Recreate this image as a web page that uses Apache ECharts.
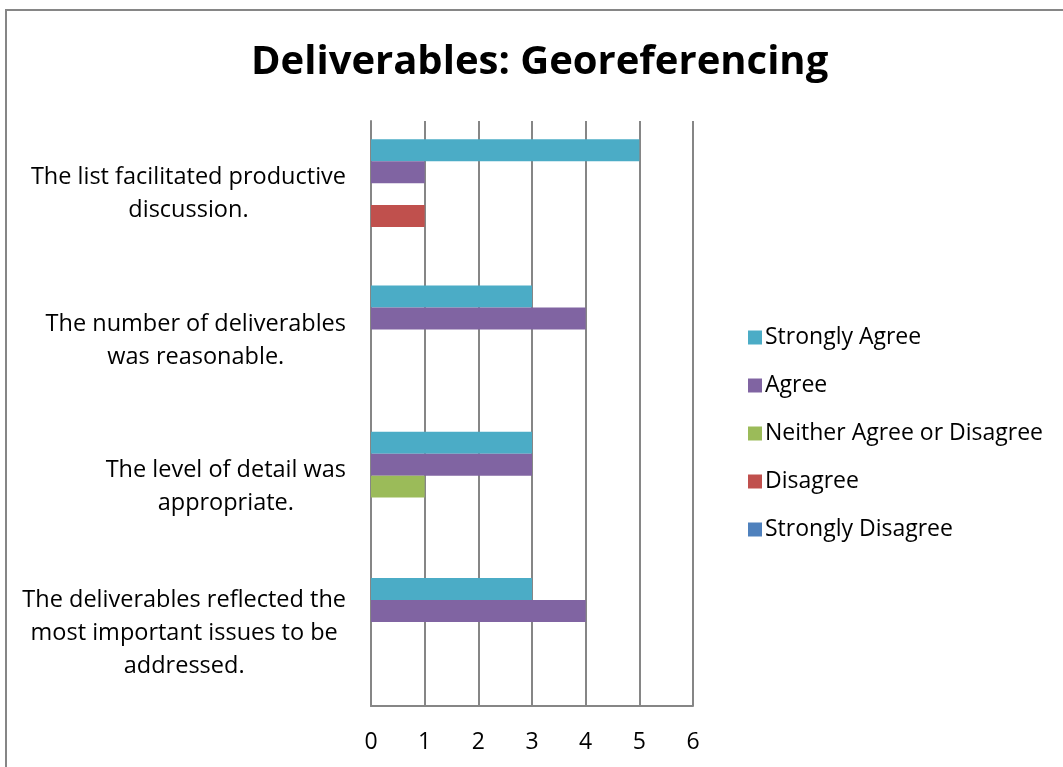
<!DOCTYPE html>
<html>
<head>
<meta charset="utf-8">
<script src="https://cdn.jsdelivr.net/npm/echarts@6/dist/echarts.min.js"></script>
<style>
  html, body { margin: 0; padding: 0; background: #fff; }
  #chart { width: 1063px; height: 767px; }
</style>
</head>
<body>
<div id="chart"></div>
<script>
const statements = [
  "The list facilitated productive\ndiscussion.",
  "The number of deliverables\nwas reasonable.",
  "The level of detail was\nappropriate.",
  "The deliverables reflected the\nmost important issues to be\naddressed."
];
const xTicks = [0, 1, 2, 3, 4, 5, 6];

const stronglyAgree = [5, 3, 3, 3];
const agree = [1, 4, 3, 4];
const neither = [0, 0, 1, 0];
const disagree = [1, 0, 0, 0];
const stronglyDisagree = [0, 0, 0, 0];

const seriesNames = ["Strongly Agree", "Agree", "Neither Agree or Disagree", "Disagree", "Strongly Disagree"];
const seriesColors = ["#4BACC6", "#8064A2", "#9BBB59", "#C0504D", "#4F81BD"];
const seriesData = [stronglyAgree, agree, neither, disagree, stronglyDisagree];

const font = "Open Sans";
const chart = echarts.init(document.getElementById("chart"));

chart.setOption({
  animation: false,
  textStyle: { fontFamily: font },
  title: {
    text: "Deliverables: Georeferencing",
    left: 246,
    top: 38,
    textStyle: { fontFamily: font, fontSize: 40, fontWeight: "bold", color: "#000" }
  },
  graphic: [{
    type: "rect",
    shape: { x: 6, y: 10, width: 1100, height: 800 },
    style: { fill: "none", stroke: "#868686", lineWidth: 2 },
    silent: true
  }],
  legend: {
    orient: "vertical",
    left: 743,
    top: 321,
    itemWidth: 14,
    itemHeight: 14,
    itemGap: 25,
    icon: "rect",
    textStyle: { fontFamily: font, fontSize: 23, color: "#000", padding: [0, 0, 0, -2] },
    data: seriesNames
  },
  grid: { left: 371, top: 121, width: 322, height: 585, containLabel: false },
  xAxis: {
    type: "value",
    min: xTicks[0],
    max: xTicks[xTicks.length - 1],
    interval: 1,
    axisLine: { show: true, lineStyle: { color: "#868686", width: 2 } },
    axisTick: { show: false },
    axisLabel: { fontFamily: font, fontSize: 23, color: "#000", margin: 25 },
    splitLine: { show: true, lineStyle: { color: "#868686", width: 2 } }
  },
  yAxis: {
    type: "category",
    inverse: true,
    data: statements,
    axisLine: { show: true, lineStyle: { color: "#868686", width: 2 } },
    axisTick: { show: false },
    axisLabel: {
      margin: 25,
      align: "right",
      formatter: (value) => value.split("\n").map((line) => "{c|" + line + "}").join("\n"),
      rich: {
        c: { fontFamily: font, fontSize: 23.5, color: "#000", lineHeight: 33, align: "center" }
      }
    }
  },
  series: seriesNames.map((name, i) => ({
    name: name,
    type: "bar",
    data: seriesData[i],
    barGap: "0%",
    barCategoryGap: "25%",
    itemStyle: { color: seriesColors[i] }
  }))
});
</script>
</body>
</html>
